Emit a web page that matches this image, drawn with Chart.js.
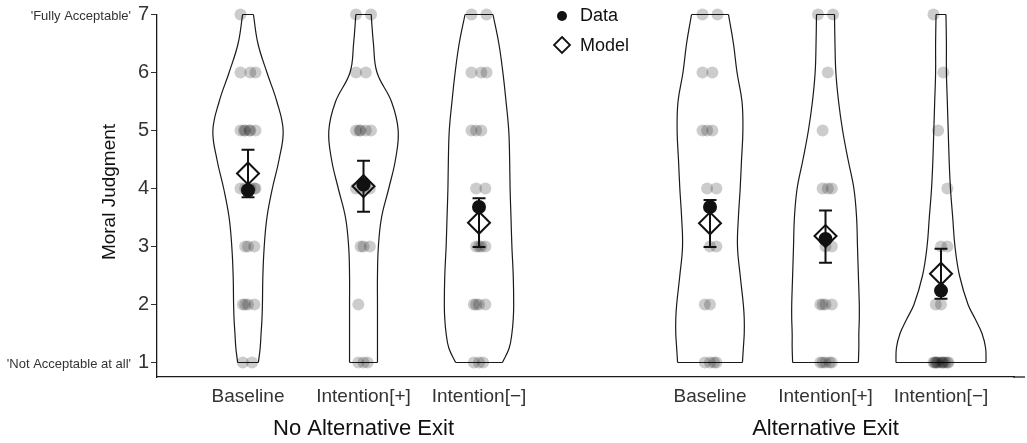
<!DOCTYPE html>
<html>
<head>
<meta charset="utf-8">
<script src="https://cdn.jsdelivr.net/npm/chart.js@4.4.1/dist/chart.umd.min.js"></script>
<style>
  html, body { margin: 0; padding: 0; background: #ffffff; overflow: hidden; }
  #wrap { position: relative; width: 1027px; height: 443px; }
  #chart { display: block; }
</style>
</head>
<body>
<div id="wrap"><canvas id="chart"></canvas></div>
<script>
// ---- data ----
const groups = ['No Alternative Exit', 'Alternative Exit'];
const groupCenters = [2, 6];
const conditions = ['Baseline', 'Intention[+]', 'Intention[\u2212]', 'Baseline', 'Intention[+]', 'Intention[\u2212]'];
const positions = [1, 2, 3, 5, 6, 7];
const ratingLevels = [1, 2, 3, 4, 5, 6, 7];
const endLabels = { 1: "'Not Acceptable at all'", 7: "'Fully Acceptable'" };

// observed means, model means and model intervals per condition
const dataMean = [3.97, 4.07, 3.68, 3.68, 3.13, 2.24];
const modelMean = [4.26, 4.04, 3.41, 3.40, 3.18, 2.53];
const modelLow = [3.85, 3.60, 2.99, 2.99, 2.72, 2.10];
const modelHigh = [4.67, 4.48, 3.83, 3.80, 3.62, 2.96];

// number of responses at each rating 1..7
const countsNoExitBaseline = [2, 4, 3, 5, 6, 3, 1];
const countsNoExitIntentPlus = [3, 1, 3, 4, 5, 2, 2];
const countsNoExitIntentMinus = [3, 4, 4, 2, 3, 3, 2];
const countsExitBaseline = [4, 2, 2, 2, 3, 2, 2];
const countsExitIntentPlus = [5, 4, 2, 3, 1, 1, 2];
const countsExitIntentMinus = [11, 2, 2, 1, 1, 1, 1];

// violin density profiles (normalised to the widest), evaluated at these ratings
const densityLevels = [1, 1.25, 1.5, 1.75, 2, 2.5, 3, 3.5, 4, 4.5, 5, 5.5, 6, 6.5, 7];
const densityNoExitBaseline = [.23, .27, .29, .31, .32, .33, .36, .42, .54, .69, .78, .64, .42, .22, .12];
const densityNoExitIntentPlus = [.31, .31, .31, .31, .31, .31, .33, .40, .56, .71, .77, .62, .30, .22, .17];
const densityNoExitIntentMinus = [.52, .67, .73, .76, .77, .76, .73, .71, .69, .68, .66, .60, .53, .44, .31];
const densityExitBaseline = [.72, .74, .76, .76, .74, .67, .61, .63, .67, .70, .73, .71, .60, .52, .41];
const densityExitIntentPlus = [.73, .74, .74, .75, .75, .73, .71, .69, .63, .50, .38, .29, .23, .21, .20];
const densityExitIntentMinus = [1, .99, .91, .76, .60, .41, .31, .26, .21, .18, .16, .14, .12, .12, .11];

const counts = [countsNoExitBaseline, countsNoExitIntentPlus, countsNoExitIntentMinus,
                countsExitBaseline, countsExitIntentPlus, countsExitIntentMinus];
const densities = [densityNoExitBaseline, densityNoExitIntentPlus, densityNoExitIntentMinus,
                   densityExitBaseline, densityExitIntentPlus, densityExitIntentMinus];

// ---- styling constants ----
const FONT = "'Liberation Sans', Arial, Helvetica, sans-serif";
const VIOLIN_HALF = 0.39;        // half width of the widest violin, in x units
const CAP_HALF = 0.056;          // half width of interval caps
const SPREAD = [0.035, -0.045, 0.0, 0.055, -0.025, 0.02, -0.065, 0.065, -0.035, 0.012, -0.055, 0.045];

// ---- build datasets ----
const datasets = [];

densities.forEach((dens, i) => {
  const c = positions[i];
  const left = densityLevels.map((lv, k) => ({ x: c - dens[k] * VIOLIN_HALF, y: lv }));
  const right = densityLevels.map((lv, k) => ({ x: c + dens[k] * VIOLIN_HALF, y: lv }));
  const line = { type: 'scatter', showLine: true, tension: 0.4, borderColor: '#1a1a1a',
                 borderWidth: 1.2, pointRadius: 0, fill: false, clip: false, order: 5 };
  datasets.push(Object.assign({ data: left }, line));
  datasets.push(Object.assign({ data: right }, line));
  const n = densityLevels.length - 1;
  datasets.push(Object.assign({}, line, {
    tension: 0, spanGaps: false,
    data: [left[0], right[0], { x: c, y: null }, left[n], right[n]]
  }));
});

// individual responses
const jitterPts = [];
counts.forEach((row, i) => {
  row.forEach((n, r) => {
    for (let j = 0; j < n; j++) {
      const off = SPREAD[(j + r) % SPREAD.length];
      jitterPts.push({ x: positions[i] + off, y: ratingLevels[r] });
    }
  });
});
datasets.push({ type: 'scatter', data: jitterPts, pointRadius: 6, pointHoverRadius: 6,
  backgroundColor: 'rgba(0,0,0,0.2)', borderWidth: 0, clip: false, order: 4 });

// model intervals
const ebars = [];
positions.forEach((c, i) => {
  ebars.push({ x: c, y: modelLow[i] }, { x: c, y: modelHigh[i] }, { x: c, y: null });
  ebars.push({ x: c - CAP_HALF, y: modelLow[i] }, { x: c + CAP_HALF, y: modelLow[i] }, { x: c, y: null });
  ebars.push({ x: c - CAP_HALF, y: modelHigh[i] }, { x: c + CAP_HALF, y: modelHigh[i] }, { x: c, y: null });
});
datasets.push({ type: 'scatter', showLine: true, spanGaps: false, data: ebars, borderColor: '#111',
  borderWidth: 2, pointRadius: 0, tension: 0, clip: false, order: 3 });

// model means
datasets.push({ type: 'scatter', data: positions.map((c, i) => ({ x: c, y: modelMean[i] })),
  pointStyle: 'rectRot', pointRadius: 11, pointHoverRadius: 11, borderColor: '#111', borderWidth: 2,
  backgroundColor: 'rgba(0,0,0,0)', clip: false, order: 2 });

// observed means
datasets.push({ type: 'scatter', data: positions.map((c, i) => ({ x: c, y: dataMean[i] })),
  pointRadius: 7, pointHoverRadius: 7, backgroundColor: '#111', borderWidth: 0, clip: false, order: 1 });

// ---- extra text: group labels, axis title, end labels, legend ----
const decorations = {
  id: 'decorations',
  afterDraw(chart) {
    const { ctx, chartArea } = chart;
    const xs = chart.scales.x, ys = chart.scales.y;
    ctx.save();
    // continue the x axis line to the panel edge
    ctx.strokeStyle = '#1a1a1a';
    ctx.lineWidth = 1.3;
    ctx.beginPath();
    ctx.moveTo(chartArea.right - 1, chartArea.bottom);
    ctx.lineTo(1025, chartArea.bottom);
    ctx.stroke();

    // group labels
    ctx.fillStyle = '#111';
    ctx.font = '22px ' + FONT;
    ctx.textAlign = 'center';
    ctx.textBaseline = 'middle';
    groups.forEach((g, k) => ctx.fillText(g, xs.getPixelForValue(groupCenters[k]), 429));

    // y title
    ctx.save();
    ctx.translate(110, 192);
    ctx.rotate(-Math.PI / 2);
    ctx.font = '19px ' + FONT;
    ctx.fillStyle = '#111';
    ctx.fillText('Moral Judgment', 0, 0);
    ctx.restore();

    // end-of-scale descriptions
    ctx.font = '13px ' + FONT;
    ctx.fillStyle = '#333';
    ctx.textAlign = 'right';
    Object.keys(endLabels).forEach(v => {
      ctx.fillText(endLabels[v], 131, ys.getPixelForValue(Number(v)) + 1.5);
    });

    // legend
    const lx = 562;
    ctx.fillStyle = '#111';
    ctx.beginPath();
    ctx.arc(lx, 16, 5, 0, Math.PI * 2);
    ctx.fill();
    ctx.strokeStyle = '#111';
    ctx.lineWidth = 1.8;
    ctx.beginPath();
    ctx.moveTo(lx, 37); ctx.lineTo(lx + 8, 45); ctx.lineTo(lx, 53); ctx.lineTo(lx - 8, 45); ctx.closePath();
    ctx.stroke();
    ctx.font = '18px ' + FONT;
    ctx.textAlign = 'left';
    ctx.fillText('Data', 580, 16);
    ctx.fillText('Model', 580, 46);
    ctx.restore();
  }
};

new Chart(document.getElementById('chart'), {
  type: 'scatter',
  data: { datasets },
  options: {
    responsive: true,
    maintainAspectRatio: false,
    animation: false,
    events: [],
    layout: { padding: { top: 14.5, right: 2, left: 0, bottom: 0 } },
    plugins: { legend: { display: false }, tooltip: { enabled: false } },
    scales: {
      x: {
        type: 'linear',
        min: 0.212,
        max: 7.632,
        afterBuildTicks: s => { s.ticks = positions.map(v => ({ value: v })); },
        afterFit: s => { s.height = 66; },
        ticks: {
          callback: (v) => conditions[positions.indexOf(v)],
          font: { family: FONT, size: 19 },
          color: '#333',
          padding: 8,
          maxRotation: 0,
          autoSkip: false
        },
        grid: { display: false, drawTicks: false },
        border: { display: true, color: '#1a1a1a', width: 1.3 }
      },
      y: {
        type: 'linear',
        min: 0.75,
        max: 7,
        afterBuildTicks: s => { s.ticks = ratingLevels.map(v => ({ value: v })); },
        afterFit: s => { s.width = 157; },
        ticks: {
          font: { family: FONT, size: 20 },
          color: '#333',
          padding: 2
        },
        grid: { display: true, drawOnChartArea: false, drawTicks: true, tickLength: 6, color: '#333', lineWidth: 1 },
        border: { display: true, color: '#1a1a1a', width: 1.3 }
      }
    }
  },
  plugins: [decorations]
});
</script>
</body>
</html>
